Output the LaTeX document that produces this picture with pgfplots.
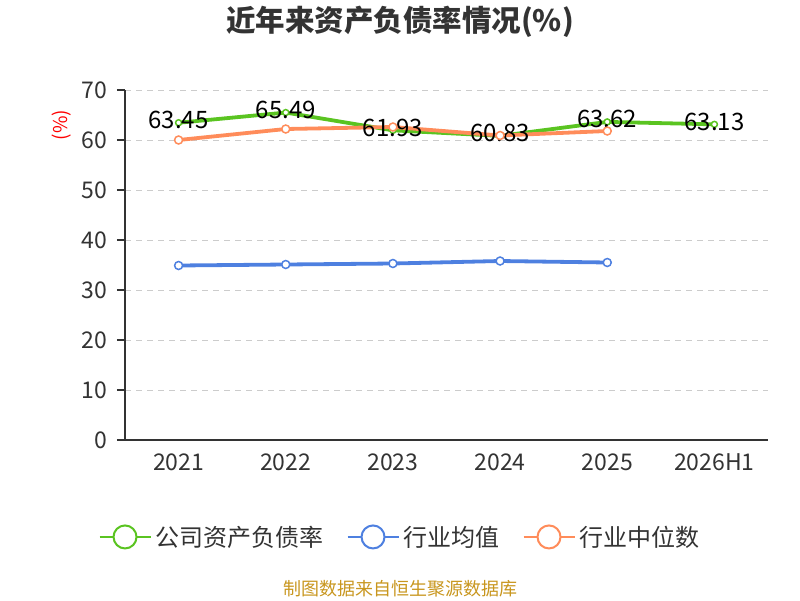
\documentclass[border=0pt]{standalone}
\usepackage{pgfplots}
\pgfplotsset{compat=1.18}
\usepackage{fontspec}
\setmainfont{Noto Sans CJK SC}
\definecolor{cgreen}{RGB}{90,196,33}
\definecolor{cblue}{RGB}{78,128,224}
\definecolor{corange}{RGB}{255,140,90}
\definecolor{ctext}{RGB}{51,51,51}
\definecolor{cgrid}{RGB}{204,204,204}
\definecolor{cfoot}{RGB}{200,150,30}
\begin{document}
\begin{tikzpicture}
\path[use as bounding box] (0,0) rectangle (800pt,-600pt);
\begin{axis}[
  at={(125pt,-440pt)}, anchor=south west,
  scale only axis, width=643pt, height=350pt,
  xmin=-0.5, xmax=5.5, ymin=0, ymax=70,
  axis x line=bottom, axis y line=left,
  axis line style={-, line width=1.2pt, ctext},
  xtick={0,...,5},
  xticklabels={2021,2022,2023,2024,2025,2026H1},
  major x tick style={draw=none},
  extra x ticks={-0.5,0.5,1.5,2.5,3.5,4.5,5.5},
  extra x tick labels={},
  extra x tick style={major tick length=8pt, tick align=outside, tick style={line width=1.2pt, ctext}, grid=none},
  ytick={0,10,...,70},
  ymajorgrids,
  grid style={dashed, cgrid, line width=1pt, dash pattern=on 6pt off 5pt},
  y tick style={line width=1.2pt, ctext},
  tick align=outside, major tick length=8pt,
  /pgf/number format/assume math mode=true,
  ticklabel style={font=\fontsize{23}{23}\selectfont, text=ctext},
  every y tick label/.append style={xshift=-6pt},
  xticklabel style={yshift=-2pt},
  clip=false,
  legend columns=3,
  legend style={at={(0.4285,-0.277)}, anchor=center, draw=none, fill=none,
    font=\fontsize{24}{24}\selectfont, text=ctext, inner xsep=0pt,
    nodes={inner xsep=3.5pt},
    /tikz/every even column/.append style={column sep=20pt}},
  legend image code/.code={
    \draw[line width=2pt] (0pt,0pt) -- (51pt,0pt);
    \draw[line width=2pt, fill=white] (25.5pt,0pt) circle (11.5pt);
  },
]
\addplot[cgreen, line width=3.8pt, mark=*, mark size=3pt, mark options={fill=white, line width=1.5pt},
  nodes near coords, point meta=explicit symbolic,
  every node near coord/.style={anchor=center, yshift=2.5pt, font=\fontsize{24}{24}\selectfont, text=black}]
  table[meta=lab] {
x y lab
0 63.45 63.45
1 65.49 65.49
2 61.93 61.93
3 60.83 60.83
4 63.62 63.62
5 63.13 63.13
};
\addlegendentry{公司资产负债率}
\addplot[cblue, line width=3.8pt, mark=*, mark size=4pt, mark options={fill=white, line width=1.5pt}]
  coordinates {(0,34.9) (1,35.1) (2,35.3) (3,35.8) (4,35.5)};
\addlegendentry{行业均值}
\addplot[corange, line width=3.8pt, mark=*, mark size=4pt, mark options={fill=white, line width=1.5pt}]
  coordinates {(0,60.0) (1,62.2) (2,62.6) (3,60.9) (4,61.8)};
\addlegendentry{行业中位数}
\end{axis}
\node[text=ctext, font=\bfseries\fontsize{29.5}{29.5}\selectfont] at (400pt,-22pt) {近年来资产负债率情况(\%)};
\node[text=red, rotate=90, font=\fontsize{19}{19}\selectfont] at (62pt,-125pt) {(\%)};
\node[text=cfoot, font=\fontsize{18}{18}\selectfont] at (400pt,-589pt) {制图数据来自恒生聚源数据库};
\end{tikzpicture}
\end{document}
